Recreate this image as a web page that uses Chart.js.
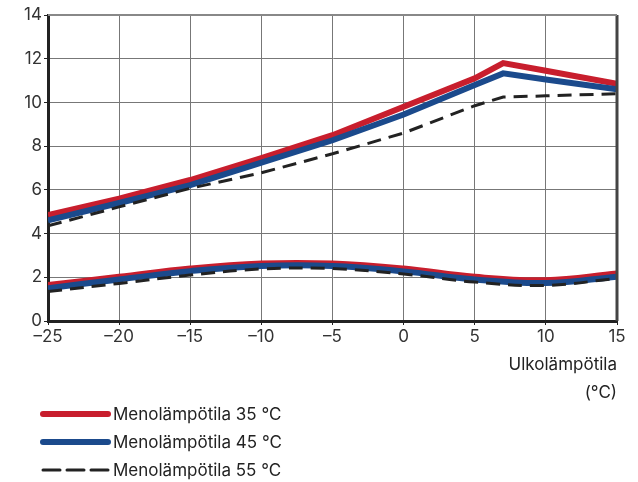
<!DOCTYPE html>
<html>
<head>
<meta charset="utf-8">
<script src="https://cdn.jsdelivr.net/npm/chart.js@4/dist/chart.umd.min.js"></script>
<style>
  body { margin: 0; background: #fff; font-family: Inter, sans-serif; }
  #wrap { position: relative; width: 638px; height: 482px; }
  #box { position: absolute; left: 0; top: 0; width: 638px; height: 410px; }
  #legend { position: absolute; left: 40px; top: 400px; }
  .row { height: 28px; display: flex; align-items: center; font-size: 17px; color: #222; }
  .row canvas { margin-right: 2px; }
</style>
</head>
<body>
<div id="wrap">
  <div id="box"><canvas id="c"></canvas></div>
  <div id="legend"></div>
</div>
<script>
// outdoor temperature (°C)
const upperX = [-25, -20, -15, -10, -5, 0, 5, 7, 10, 15];
const lowerX = [-25, -20, -15, -10, -5, 0, 5, 10, 15];

// upper curves
const red35Top = [4.85, 5.6, 6.45, 7.45, 8.5, 9.8, 11.1, 11.8, 11.45, 10.85];
const blue45Top = [4.6, 5.4, 6.22, 7.25, 8.27, 9.45, 10.8, 11.33, 11.05, 10.6];
const dash55Top = [4.35, 5.22, 6.07, 6.78, 7.65, 8.6, 9.85, 10.25, 10.3, 10.4];

// lower curves
const red35Low = [1.65, 2.02, 2.4, 2.63, 2.63, 2.4, 2.02, 1.87, 2.17];
const blue45Low = [1.5, 1.9, 2.28, 2.52, 2.52, 2.27, 1.9, 1.74, 2.03];
const dash55Low = [1.35, 1.72, 2.1, 2.38, 2.4, 2.15, 1.78, 1.63, 1.95];

const xTicks = [-25, -20, -15, -10, -5, 0, 5, 10, 15];
const legendLabels = ['Menolämpötila 35 °C', 'Menolämpötila 45 °C', 'Menolämpötila 55 °C'];

const RED = '#c81e2d', BLUE = '#1b4a8c', DARK = '#222';
const FONT = { family: 'Inter', size: 17 };

function pts(xs, ys) { return xs.map((x, i) => ({ x: x, y: ys[i] })); }

function ds(data, color, width, dash, tension, order) {
  return {
    data: data, borderColor: color, borderWidth: width, borderDash: dash,
    pointRadius: 0, tension: tension, fill: false, order: order,
    borderCapStyle: 'butt', borderJoinStyle: 'miter'
  };
}

let chart = new Chart(document.getElementById('c'), {
  type: 'line',
  data: {
    datasets: [
      ds(pts(upperX, red35Top), RED, 6, [], 0, 3),
      ds(pts(upperX, blue45Top), BLUE, 6, [], 0, 2),
      ds(pts(upperX, dash55Top), DARK, 3, [14, 8], 0, 1),
      ds(pts(lowerX, red35Low), RED, 6, [], 0.4, 3),
      ds(pts(lowerX, blue45Low), BLUE, 6, [], 0.4, 2),
      ds(pts(lowerX, dash55Low), DARK, 3, [14, 8], 0.4, 1)
    ]
  },
  options: {
    responsive: true,
    maintainAspectRatio: false,
    animation: false,
    layout: { padding: { top: 15, right: 21, left: 0, bottom: 0 } },
    plugins: { legend: { display: false }, tooltip: { enabled: false } },
    scales: {
      x: {
        type: 'linear', min: -25, max: 15,
        afterBuildTicks: s => { s.ticks = xTicks.map(v => ({ value: v })); },
        afterFit: s => { s.height = 89; },
        grid: { color: '#777', lineWidth: 1, drawTicks: true, tickLength: 4, tickColor: '#222' },
        border: { color: '#222', width: 3 },
        ticks: {
          color: '#333', font: FONT, padding: 2,
          maxRotation: 0,
          callback: v => String(v).replace('-', '–')
        },
        title: {
          display: true, text: ['Ulkolämpötila', '(°C)'], align: 'end',
          color: '#222', font: { family: 'Inter', size: 17, lineHeight: 1.6 }, padding: { top: 7, bottom: 4 }
        }
      },
      y: {
        min: 0, max: 14,
        afterFit: s => { s.width = 48; },
        grid: { color: '#777', lineWidth: 1, tickLength: 4, tickColor: '#222' },
        border: { color: '#222', width: 3 },
        ticks: { stepSize: 2, color: '#333', font: FONT, padding: 2 }
      }
    }
  },
  plugins: [{
    id: 'frame',
    afterDraw(c) {
      const a = c.chartArea, ctx = c.ctx;
      ctx.save();
      ctx.strokeStyle = '#444';
      ctx.lineWidth = 3;
      ctx.beginPath();
      ctx.moveTo(a.right, a.top);
      ctx.lineTo(a.right, a.bottom);
      ctx.stroke();
      ctx.strokeStyle = '#888';
      ctx.lineWidth = 2;
      ctx.beginPath();
      ctx.moveTo(a.left, a.top);
      ctx.lineTo(a.right, a.top);
      ctx.stroke();
      ctx.restore();
    }
  }]
});

// legend from the first three datasets
const leg = document.getElementById('legend');
chart.data.datasets.slice(0, 3).forEach((d, i) => {
  const row = document.createElement('div');
  row.className = 'row';
  const cv = document.createElement('canvas');
  cv.width = 71; cv.height = 10;
  const g = cv.getContext('2d');
  g.strokeStyle = d.borderColor;
  g.lineWidth = d.borderWidth;
  g.lineCap = 'round';
  g.setLineDash(d.borderDash.length ? [17, 7] : []);
  g.beginPath(); g.moveTo(3, 5); g.lineTo(68, 5); g.stroke();
  row.appendChild(cv);
  const t = document.createElement('span');
  t.textContent = legendLabels[i];
  row.appendChild(t);
  leg.appendChild(row);
});
</script>
</body>
</html>
